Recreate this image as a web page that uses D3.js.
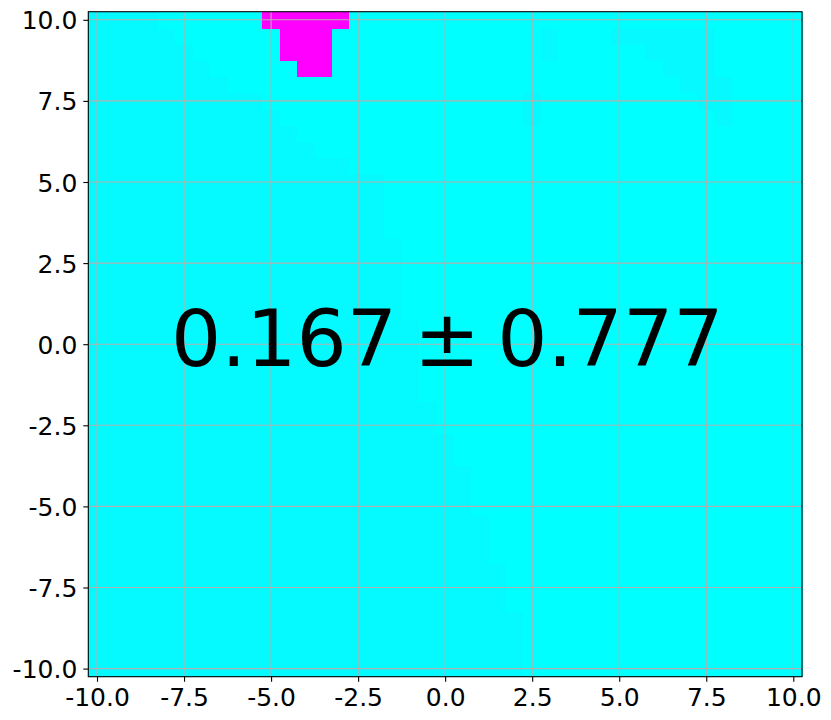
<!DOCTYPE html>
<html>
<head>
<meta charset="utf-8">
<script src="https://cdn.jsdelivr.net/npm/d3@7"></script>
<style>
  html, body { margin: 0; padding: 0; background: #ffffff; }
  svg { display: block; }
  text { font-family: "DejaVu Sans", sans-serif; }
</style>
</head>
<body>
<svg id="chart" width="831" height="720"></svg>
<script>
// ---------------- data ----------------
const tickValues = [-10, -7.5, -5, -2.5, 0, 2.5, 5, 7.5, 10];
const tickLabels = ["-10.0", "-7.5", "-5.0", "-2.5", "0.0", "2.5", "5.0", "7.5", "10.0"];
const cellStep = 0.5;
const gridMin = -10, gridMax = 10;
const baseValue = 0.0;
const colorDomain = [0, 1];
// faint band on the left: [y, xFrom, xTo, value]
const bandRows = [
  [10, -10, -8.5, 0.02], [9.5, -10, -8, 0.02], [9, -10, -7.5, 0.02], [8.5, -10, -7, 0.02],
  [8, -10, -6.5, 0.02], [7.5, -10, -5.5, 0.02], [7, -10, -5, 0.02], [6.5, -10, -4.5, 0.02],
  [6, -10, -4, 0.02], [5.5, -10, -3, 0.02], [5, -10, -2, 0.02], [4.5, -10, -2, 0.02],
  [4, -10, -2, 0.02], [3.5, -10, -2, 0.02], [3, -10, -1.5, 0.02], [2.5, -10, -1.5, 0.02],
  [2, -10, -1.5, 0.02], [1.5, -10, -1.5, 0.02], [1, -10, -1.5, 0.02], [0.5, -10, -1, 0.02],
  [0, -10, -1, 0.02], [-0.5, -10, -1, 0.02], [-1, -10, -1, 0.02], [-1.5, -10, -1, 0.02],
  [-2, -10, -0.5, 0.02], [-2.5, -10, -0.5, 0.02], [-3, -10, 0, 0.02], [-3.5, -10, 0, 0.02],
  [-4, -10, 0.5, 0.02], [-4.5, -10, 0.5, 0.02], [-5, -10, 0.5, 0.02], [-5.5, -10, 1, 0.02],
  [-6, -10, 1, 0.02], [-6.5, -10, 1, 0.02], [-7, -10, 1.5, 0.02], [-7.5, -10, 1.5, 0.02],
  [-8, -10, 1.5, 0.02], [-8.5, -10, 2, 0.02], [-9, -10, 2, 0.02], [-9.5, -10, 2, 0.02],
  [-10, -10, 2, 0.02]
];
// faint patches top-right: [y, xFrom, xTo, value]
const patchRows = [
  [9.5, 5, 7.5, 0.025], [9, 6, 7.5, 0.025], [8.5, 6.5, 7.5, 0.025],
  [8, 7, 8, 0.025], [7.5, 7.5, 8, 0.025], [7, 8, 8, 0.025],
  [9.5, 3, 3, 0.02], [9, 3, 3, 0.02], [7.5, 2.5, 2.5, 0.02], [7, 2.5, 2.5, 0.02]
];
// saturated cells at the top: [y, xFrom, xTo, value]
const hotRows = [
  [10, -5, -3, 1.0], [9.5, -4.5, -3.5, 1.0], [9, -4.5, -3.5, 1.0], [8.5, -4, -3.5, 1.0]
];
const annotation = ["0.167", "±", "0.777"];

// ---------------- layout ----------------
const svg = d3.select("#chart");
const plot = { left: 88.3, right: 802, top: 11.7, bottom: 676.7 };
const half = cellStep / 2;
const x = d3.scaleLinear().domain([gridMin - half, gridMax + half]).range([plot.left, plot.right]);
const y = d3.scaleLinear().domain([gridMax + half, gridMin - half]).range([plot.top, plot.bottom]);
const color = d3.scaleSequential(d3.interpolateRgb("#00ffff", "#ff00ff")).domain(colorDomain);

// expand rows into cells
const cellMap = new Map();
const key = (cx, cy) => cx.toFixed(2) + "," + cy.toFixed(2);
const nSteps = Math.round((gridMax - gridMin) / cellStep);
for (let i = 0; i <= nSteps; i++) {
  for (let j = 0; j <= nSteps; j++) {
    const cx = gridMin + j * cellStep, cy = gridMin + i * cellStep;
    cellMap.set(key(cx, cy), { x: cx, y: cy, v: baseValue });
  }
}
function applyRows(rows) {
  rows.forEach(([ry, x0, x1, v]) => {
    const n = Math.round((x1 - x0) / cellStep);
    for (let k = 0; k <= n; k++) {
      const cx = x0 + k * cellStep;
      const c = cellMap.get(key(cx, ry));
      if (c) c.v = v;
    }
  });
}
applyRows(bandRows);
applyRows(patchRows);
applyRows(hotRows);
const cells = Array.from(cellMap.values());

const cellW = x(half) - x(-half);
const cellH = y(-half) - y(half);

svg.append("g")
  .attr("shape-rendering", "crispEdges")
  .selectAll("rect")
  .data(cells)
  .join("rect")
  .attr("x", d => x(d.x - half))
  .attr("y", d => y(d.y + half))
  .attr("width", cellW + 0.6)
  .attr("height", cellH + 0.6)
  .attr("fill", d => color(d.v));

// grid
const grid = svg.append("g").attr("stroke", "#b0b0b0").attr("stroke-width", 1.1);
grid.selectAll("line.v").data(tickValues).join("line")
  .attr("class", "v")
  .attr("x1", d => x(d)).attr("x2", d => x(d))
  .attr("y1", plot.top).attr("y2", plot.bottom);
grid.selectAll("line.h").data(tickValues).join("line")
  .attr("class", "h")
  .attr("y1", d => y(d)).attr("y2", d => y(d))
  .attr("x1", plot.left).attr("x2", plot.right);

// axes
const fmt = d => tickLabels[tickValues.indexOf(d)];
const xAxis = d3.axisBottom(x).tickValues(tickValues).tickFormat(fmt).tickSize(5).tickPadding(5);
const yAxis = d3.axisLeft(y).tickValues(tickValues).tickFormat(fmt).tickSize(5).tickPadding(6);

const gx = svg.append("g").attr("transform", `translate(0,${plot.bottom})`).call(xAxis);
const gy = svg.append("g").attr("transform", `translate(${plot.left},0)`).call(yAxis);
[gx, gy].forEach(g => {
  g.select(".domain").remove();
  g.selectAll(".tick line").attr("stroke", "#000").attr("stroke-width", 1.1);
  g.selectAll(".tick text")
    .attr("fill", "#000")
    .style("font-family", "'DejaVu Sans', sans-serif")
    .style("font-size", "25px");
});
gy.selectAll(".tick text").attr("dy", "0.36em");
gx.selectAll(".tick text").attr("dy", "0.76em");

// spines
svg.append("rect")
  .attr("x", plot.left).attr("y", plot.top)
  .attr("width", plot.right - plot.left).attr("height", plot.bottom - plot.top)
  .attr("fill", "none").attr("stroke", "#000").attr("stroke-width", 1.1);

// annotation text
const t = svg.append("text")
  .attr("x", (plot.left + plot.right) / 2 + 2)
  .attr("y", 366)
  .attr("text-anchor", "middle")
  .attr("fill", "#000")
  .style("font-family", "'DejaVu Sans', sans-serif")
  .style("font-size", "79px");
t.append("tspan").text(annotation[0]);
t.append("tspan").attr("dx", 17).text(annotation[1]);
t.append("tspan").attr("dx", 17).text(annotation[2]);
</script>
</body>
</html>
